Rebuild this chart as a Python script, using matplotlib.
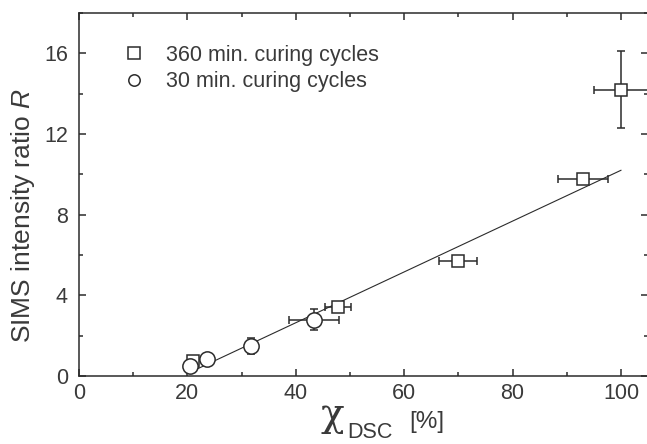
import numpy as np
import matplotlib
matplotlib.use('Agg')
import matplotlib.pyplot as plt
from matplotlib.ticker import MultipleLocator

plt.rcParams['font.family'] = ['Liberation Sans', 'DejaVu Sans']
plt.rcParams['mathtext.fontset'] = 'custom'
plt.rcParams['mathtext.rm'] = 'Liberation Sans'
plt.rcParams['mathtext.it'] = 'Liberation Sans:italic'

# 360 min. curing cycles
x_long = [21.0, 47.8, 69.9, 93.0, 100.0]
y_long = [0.75, 3.4, 5.7, 9.75, 14.2]
xerr_long = [0.4, 2.4, 3.5, 4.6, 5.0]
yerr_long = [0.25, 0.2, 0.2, 0.25, 1.9]

# 30 min. curing cycles
x_short = [20.4, 23.6, 31.7, 43.3]
y_short = [0.5, 0.85, 1.5, 2.8]
xerr_short = [0.4, 0.6, 0.4, 4.6]
yerr_short = [0.3, 0.15, 0.4, 0.5]

# linear fit R = a * chi + b
fit_slope = 0.126
fit_icept = -2.40
fit_range = [20.5, 100.0]

ink = '#2b2b2b'
txt = '#3a3a3a'
fs = 15.5

fig = plt.figure(figsize=(6.47, 4.44), dpi=100)
ax = fig.add_axes([0.1221, 0.1532, 0.8795, 0.8175])

fx = np.array(fit_range)
ax.plot(fx, fit_slope * fx + fit_icept, color=ink, lw=0.8, zorder=2)

ax.errorbar(x_long, y_long, xerr=xerr_long, yerr=yerr_long, fmt='s',
            ms=8.2, mfc='white', mec=ink, mew=1.1, ecolor=ink,
            elinewidth=1.1, capsize=3, capthick=1.1, zorder=3)
ax.errorbar(x_short, y_short, xerr=xerr_short, yerr=yerr_short, fmt='o',
            ms=11, mfc='white', mec=ink, mew=1.1, ecolor=ink,
            elinewidth=1.1, capsize=3, capthick=1.1, zorder=3)

ax.set_xlim(0, 105)
ax.set_ylim(0, 18)
ax.xaxis.set_major_locator(MultipleLocator(20))
ax.xaxis.set_minor_locator(MultipleLocator(10))
ax.yaxis.set_major_locator(MultipleLocator(4))
ax.yaxis.set_minor_locator(MultipleLocator(2))
ax.tick_params(which='both', direction='in', top=True, right=True,
               color=ink, width=1.1, labelsize=fs, labelcolor=txt)
ax.tick_params(which='major', length=5)
ax.tick_params(which='minor', length=3)
ax.tick_params(axis='y', pad=8)
ax.tick_params(axis='x', pad=5)
for s in ax.spines.values():
    s.set_color(ink)
    s.set_linewidth(1.1)

ax.set_ylabel('SIMS intensity ratio $R$', fontsize=19, color=txt)
ax.yaxis.set_label_coords(-0.074, 0.441)

# x axis label built from pieces: chi, subscript and unit
fig.text(0.496, 0.040, 'χ', fontsize=28, color=txt,
         family=['DejaVu Serif'], ha='left', va='baseline')
fig.text(0.537, 0.013, 'DSC', fontsize=15.5, color=txt, ha='left', va='baseline')
fig.text(0.632, 0.036, '[%]', fontsize=17.5, color=txt, ha='left', va='baseline')

# legend: markers only, no error bars
h_sq, = ax.plot([], [], 's', ms=8.2, mfc='white', mec=ink, mew=1.1)
h_ci, = ax.plot([], [], 'o', ms=8.2, mfc='white', mec=ink, mew=1.1)
leg = ax.legend([h_sq, h_ci], ['360 min. curing cycles', '30 min. curing cycles'],
                loc='upper left', bbox_to_anchor=(0.078, 0.912), frameon=False,
                fontsize=fs, handletextpad=1.0, labelspacing=0.25,
                handlelength=1.0, borderaxespad=0, borderpad=0)
for t in leg.get_texts():
    t.set_color(txt)

fig.savefig('out.png', dpi=100)
